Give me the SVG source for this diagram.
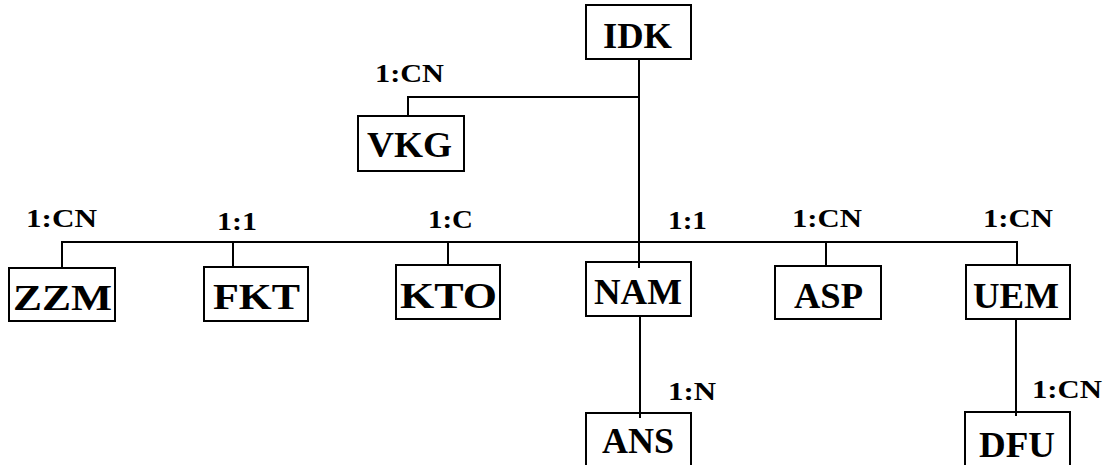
<svg xmlns="http://www.w3.org/2000/svg" width="1107" height="465" viewBox="0 0 1107 465">
<style>
rect.box{fill:#fff;stroke:#000;stroke-width:2}
text{font-family:"Times New Roman","Liberation Serif",serif;font-weight:bold;fill:#000}
.name{font-size:35px}
.lbl{font-size:25px}
#connectors line{stroke:#000;stroke-width:2}
</style>
<rect width="1107" height="465" fill="#fff"/>
<g id="connectors">
<line x1="639" y1="59" x2="639" y2="268"/>
<line x1="408" y1="97" x2="639" y2="97"/>
<line x1="408" y1="96" x2="408" y2="116"/>
<line x1="62" y1="242" x2="1018" y2="242"/>
<line x1="62" y1="241" x2="62" y2="268"/>
<line x1="233" y1="241" x2="233" y2="267"/>
<line x1="448" y1="241" x2="448" y2="265"/>
<line x1="826" y1="241" x2="826" y2="266"/>
<line x1="1017" y1="241" x2="1017" y2="265"/>
<line x1="640" y1="316" x2="640" y2="418"/>
<line x1="1016" y1="319" x2="1016" y2="416"/>
<text class="lbl" x="375" y="82" textLength="69" lengthAdjust="spacingAndGlyphs">1:CN</text>
<text class="lbl" x="26" y="227" textLength="71" lengthAdjust="spacingAndGlyphs">1:CN</text>
<text class="lbl" x="217" y="230" textLength="40" lengthAdjust="spacingAndGlyphs">1:1</text>
<text class="lbl" x="428" y="228" textLength="45" lengthAdjust="spacingAndGlyphs">1:C</text>
<text class="lbl" x="668" y="229" textLength="39" lengthAdjust="spacingAndGlyphs">1:1</text>
<text class="lbl" x="792" y="227" textLength="70" lengthAdjust="spacingAndGlyphs">1:CN</text>
<text class="lbl" x="983" y="227" textLength="70" lengthAdjust="spacingAndGlyphs">1:CN</text>
<text class="lbl" x="668" y="400" textLength="48" lengthAdjust="spacingAndGlyphs">1:N</text>
<text class="lbl" x="1032" y="398" textLength="70" lengthAdjust="spacingAndGlyphs">1:CN</text>
</g>
<g id="IDK"><rect class="box" x="586" y="5" width="105" height="54"/><text class="name" x="603" y="48" textLength="69" lengthAdjust="spacingAndGlyphs">IDK</text></g>
<g id="VKG"><rect class="box" x="358" y="116" width="106" height="55"/><text class="name" x="367" y="157" textLength="85" lengthAdjust="spacingAndGlyphs">VKG</text></g>
<g id="ZZM"><rect class="box" x="9" y="268" width="106" height="53"/><text class="name" x="13" y="310" textLength="99" lengthAdjust="spacingAndGlyphs">ZZM</text></g>
<g id="FKT"><rect class="box" x="204" y="267" width="104" height="54"/><text class="name" x="213" y="309" textLength="87" lengthAdjust="spacingAndGlyphs">FKT</text></g>
<g id="KTO"><rect class="box" x="396" y="265" width="104" height="54"/><text class="name" x="400" y="308" textLength="97" lengthAdjust="spacingAndGlyphs">KTO</text></g>
<g id="NAM"><rect class="box" x="586" y="262" width="105" height="54" style="fill:none"/><text class="name" x="594" y="304" textLength="88" lengthAdjust="spacingAndGlyphs">NAM</text></g>
<g id="ASP"><rect class="box" x="775" y="266" width="106" height="53"/><text class="name" x="794" y="308" textLength="69" lengthAdjust="spacingAndGlyphs">ASP</text></g>
<g id="UEM"><rect class="box" x="966" y="265" width="104" height="54"/><text class="name" x="973" y="308" textLength="86" lengthAdjust="spacingAndGlyphs">UEM</text></g>
<g id="ANS"><rect class="box" x="586" y="413" width="105" height="60" style="fill:none"/><text class="name" x="602" y="453" textLength="72" lengthAdjust="spacingAndGlyphs">ANS</text></g>
<g id="DFU"><rect class="box" x="965" y="412" width="105" height="60" style="fill:none"/><text class="name" x="979" y="457" textLength="76" lengthAdjust="spacingAndGlyphs">DFU</text></g>
</svg>
